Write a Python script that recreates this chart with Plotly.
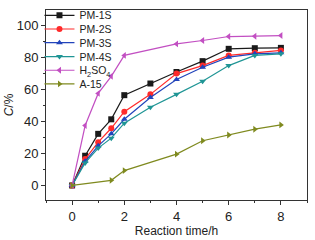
import plotly.graph_objects as go

t_full = [0, 0.5, 1, 1.5, 2, 3, 4, 5, 6, 7, 8]
pm1s = [0, 18.6, 32.3, 41.4, 56.5, 63.8, 71, 77.8, 85.5, 85.9, 86.1]
pm2s = [0, 16.5, 27.1, 35.8, 46.2, 57, 70, 75, 81.4, 83, 84.5]
pm3s = [0, 15.1, 24.8, 32.3, 41.4, 55, 66.3, 74, 80.3, 82.4, 83]
pm4s = [0, 14.1, 23.4, 29.6, 39, 48.9, 57, 65.2, 75, 81.4, 82.4]
t_h2so4 = [0, 0.5, 1, 1.5, 2, 4, 5, 6, 7, 8]
h2so4 = [0, 37.5, 57.6, 68.3, 81.4, 88.6, 90.7, 93.2, 93.4, 93.8]
t_a15 = [0, 1.5, 2, 4, 5, 6, 7, 8]
a15 = [0, 3.2, 9.3, 19.6, 28, 31.6, 35.2, 37.9]

series = [
    ("PM-1S", t_full, pm1s, "#1a1a1a", "square"),
    ("PM-2S", t_full, pm2s, "#ff2a2a", "circle"),
    ("PM-3S", t_full, pm3s, "#2244bb", "triangle-up"),
    ("PM-4S", t_full, pm4s, "#1f9595", "triangle-down"),
    ("H<sub>2</sub>SO<sub>4</sub>", t_h2so4, h2so4, "#c24fc2", "triangle-left"),
    ("A-15", t_a15, a15, "#7f8a1f", "triangle-right"),
]
# vertical centres of the legend rows (paper fraction)
legend_rows = [0.972, 0.900, 0.828, 0.755, 0.683, 0.611]

fig = go.Figure()
legend_layout = {}
for i, (name, x, y, c, sym) in enumerate(series):
    lname = "legend" if i == 0 else f"legend{i + 1}"
    fig.add_trace(go.Scatter(
        x=x, y=y, name=name, mode="lines+markers",
        line=dict(color=c, width=1.2),
        marker=dict(color=c, symbol=sym, size=6),
        legend=lname,
    ))
    legend_layout[lname] = dict(
        x=-0.025, y=legend_rows[i], xanchor="left", yanchor="middle",
        bgcolor="rgba(0,0,0,0)", font=dict(size=10.5),
        itemwidth=30,
    )

fig.update_layout(
    width=315, height=240,
    margin=dict(l=46, r=8, t=10, b=40, autoexpand=False),
    paper_bgcolor="white", plot_bgcolor="white",
    hovermode=False,
    font=dict(family="Liberation Sans, Arial, sans-serif", size=13, color="#222"),
    showlegend=True,
    **legend_layout,
)
fig.update_xaxes(
    range=[-1, 9], tickvals=[0, 2, 4, 6, 8], automargin=False,
    showline=True, linecolor="#333", linewidth=1, mirror=True,
    ticks="outside", ticklen=4, tickcolor="#333",
    minor=dict(dtick=1, ticks="outside", ticklen=2, tickcolor="#333"),
    showgrid=False, zeroline=False,
    title=dict(text="Reaction time/h", font=dict(size=12), standoff=0),
)
fig.update_yaxes(
    range=[-9.1, 109.8], tickvals=[0, 20, 40, 60, 80, 100], automargin=False,
    showline=True, linecolor="#333", linewidth=1, mirror=True,
    ticks="outside", ticklen=4, tickcolor="#333",
    minor=dict(dtick=10, ticks="outside", ticklen=2, tickcolor="#333"),
    showgrid=False, zeroline=False,
    title=dict(text="<i>C</i>/%", font=dict(size=12), standoff=0),
)

fig.write_html("out.html", config={"displayModeBar": False, "staticPlot": True},
               post_script="document.body.style.margin='0';")
